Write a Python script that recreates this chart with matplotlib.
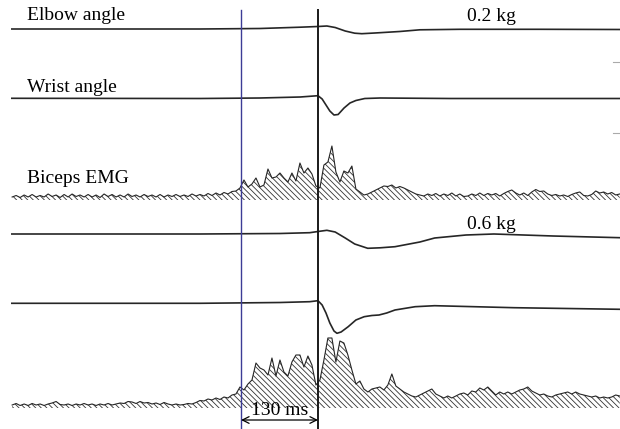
import numpy as np
import matplotlib
matplotlib.use('Agg')
import matplotlib.pyplot as plt

plt.rcParams['font.family'] = ['Liberation Serif', 'DejaVu Serif']
plt.rcParams['hatch.linewidth'] = 0.6

# time of EMG onset relative to the movement marker (ms)
emg_onset_ms = -130
marker_ms = 0

# angle traces: sample times (ms) and deflection (arbitrary units, up = positive)
elbow_02_t = [-517, -199, -98, -30, 0, 15, 29, 46, 62, 74, 96, 138, 172, 240, 375, 510]
elbow_02_v = [0, 0, 0.5, 1.8, 2.5, 3, 1.5, -2, -4.2, -4.7, -4, -2.5, -0.8, -0.3, -0.3, -0.5]

wrist_02_t = [-517, -199, -98, -30, 0, 7, 13.5, 20, 27, 34, 44, 54, 64, 79, 105, 223, 510]
wrist_02_v = [-0.3, -0.5, 0, 1, 2.3, -1, -7, -13, -17, -16.5, -10, -5, -2.5, -0.5, 0, -0.5, -0.5]

elbow_06_t = [-517, -199, -64, -14, 0, 15, 29, 46, 62, 84, 105, 130, 172, 197, 250, 297, 397, 510]
elbow_06_v = [0, 0, 0.5, 1.3, 2.5, 3.7, 2, -4, -10, -14.3, -13.8, -12.7, -8, -4, -1, 0, -2, -3.7]

wrist_06_t = [-517, -199, -64, -14, 0, 7, 13.5, 20, 27, 32, 39, 51, 64, 78, 91, 103, 116,
              130, 164, 197, 331, 510]
wrist_06_v = [-0.3, -0.3, 0.5, 1.3, 2.3, -2, -10, -20, -28, -30.3, -29, -23.7, -17, -13.7,
              -12.5, -12, -10, -7, -3.7, -2.7, -4.7, -6.3]

# rectified biceps EMG, sampled every 6.75 ms starting at -516.5 ms
emg_start_ms = -516.5
emg_step_ms = 6.75
emg_02 = [
    3, 4.5, 2.5, 5, 3, 5.5, 3, 4.5, 3, 6,
    3.5, 5, 2.5, 5.5, 3, 6, 3.5, 5, 3, 5.5,
    3, 5, 2.5, 6, 3.5, 5.5, 3, 5, 3, 6,
    3.5, 5, 3, 5.5, 3.5, 5, 3, 5.5, 3, 5,
    3.5, 5.5, 3.5, 5, 3.5, 6, 4, 5.5, 4, 6.5,
    4.5, 7, 5, 7.5, 6, 8.5, 9, 12, 20, 13,
    16, 22, 13, 15, 31, 22, 23, 27, 22, 18,
    27, 19, 37, 27, 32, 26, 14, 12, 35, 38,
    54, 28, 18, 29, 27, 34, 11, 8, 5, 6,
    8, 10, 12, 14, 13.5, 15, 12, 13.5, 12, 10,
    8, 6, 5, 4, 6, 4.5, 6.5, 4, 6, 4.5,
    7, 4, 6, 3.5, 4, 6, 4.5, 7, 4.5, 6.5,
    5, 6.5, 4, 6.5, 8.5, 10, 7, 5, 7, 4.5,
    8, 10.5, 8.5, 9, 6, 4.5, 5.5, 4, 5, 3.5,
    5.5, 7, 8, 4.5, 4, 5.5, 9, 7, 8, 6,
    7.5, 5, 6,
]
emg_06 = [
    3, 4.5, 2.5, 4, 2.5, 4.5, 3, 4, 2.5, 4,
    5, 6.5, 3.5, 3, 4, 2.5, 4, 3, 4.5, 3,
    4, 2.5, 4, 3, 4.5, 3, 4, 5, 4.5, 6.5,
    6, 4.5, 6.5, 5, 5.5, 4, 5, 3.5, 5.5, 4,
    3, 4, 3, 3.5, 4.5, 4, 5.5, 7.5, 7, 9,
    8, 10, 8.5, 11, 10, 13, 14, 21, 18, 24,
    28, 45, 40, 38, 33, 50, 32, 48, 36, 32,
    46, 53, 53, 41, 52, 43, 23, 28, 48, 70,
    70, 46, 67, 65, 53, 38, 24, 27, 19, 16,
    19, 20, 21, 18, 23, 34, 22, 19, 16, 14,
    12, 11, 13, 15, 17, 19, 14, 12, 10, 12,
    10, 12, 14, 15, 13, 17, 16, 20, 18, 21,
    17, 13, 16, 14, 16, 14, 16, 18, 19, 21,
    17, 15, 13, 14, 12, 11, 13, 14, 15, 16,
    14, 16, 14, 13, 12, 11, 12, 10, 11, 10,
    11, 13, 12,
]

# layout: baseline row of each trace on the page (px from top)
rows = {'elbow_02': 29, 'wrist_02': 98, 'emg_02': 200,
        'elbow_06': 234, 'wrist_06': 303, 'emg_06': 408}
trace_color = '#262626'

fig = plt.figure(figsize=(6.2, 4.29), dpi=100)
ax = fig.add_axes([0, 0, 1, 1])
ax.set_xlim(-537, 510)
ax.set_ylim(429, 0)
ax.axis('off')

for t, v, key in [(elbow_02_t, elbow_02_v, 'elbow_02'), (wrist_02_t, wrist_02_v, 'wrist_02'),
                  (elbow_06_t, elbow_06_v, 'elbow_06'), (wrist_06_t, wrist_06_v, 'wrist_06')]:
    ax.plot(t, rows[key] - np.array(v), color=trace_color, lw=1.2, solid_joinstyle='round')

emg_t = emg_start_ms + emg_step_ms * np.arange(len(emg_02))
for amp, key in [(emg_02, 'emg_02'), (emg_06, 'emg_06')]:
    floor = rows[key]
    y = floor - np.array(amp)
    ax.fill_between(emg_t, floor, y, facecolor='none', edgecolor='#333333',
                    linewidth=0, hatch='\\' * 6)
    ax.plot(emg_t, y, color=trace_color, lw=0.8)

# onset and movement markers
ax.axvline(emg_onset_ms, ymin=0, ymax=1 - 10 / 429, color='#3c3c96', lw=1.0)
ax.axvline(marker_ms, ymin=0, ymax=1 - 10 / 429, color='#1a1a1a', lw=1.4)

# small stray ticks at the right edge of the original figure
for yy in [62, 133]:
    ax.plot([499, 510], [yy, yy], color='#aaaaaa', lw=0.8)

ax.annotate('', xy=(emg_onset_ms, 420), xytext=(marker_ms, 420),
            arrowprops=dict(arrowstyle='<->', lw=0.9, color='black', mutation_scale=12,
                            shrinkA=0, shrinkB=0))
ax.text((emg_onset_ms + marker_ms) / 2, 415, '130 ms', ha='center', va='baseline', fontsize=14)

ax.text(-491, 20, 'Elbow angle', va='baseline', fontsize=14)
ax.text(-491, 92, 'Wrist angle', va='baseline', fontsize=14)
ax.text(-491, 183, 'Biceps EMG', va='baseline', fontsize=14)
ax.text(251, 21, '0.2 kg', va='baseline', fontsize=14)
ax.text(251, 229, '0.6 kg', va='baseline', fontsize=14)

fig.savefig('out.png', dpi=100)
